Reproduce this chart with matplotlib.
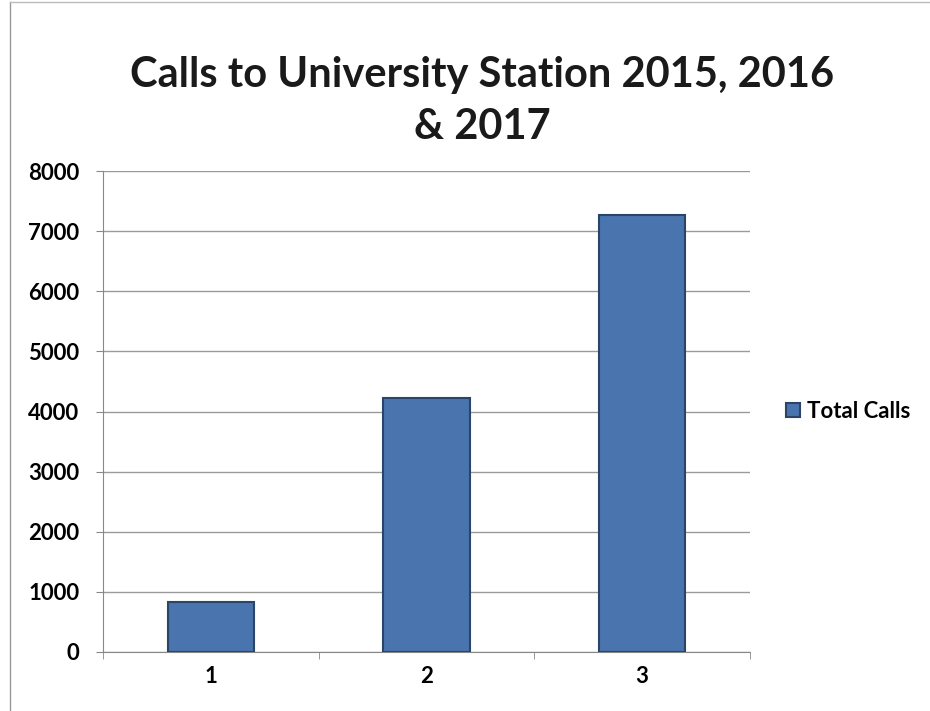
import matplotlib.pyplot as plt
from matplotlib.lines import Line2D

categories = ['1', '2', '3']
total_calls = [830, 4220, 7270]
y_ticks = [0, 1000, 2000, 3000, 4000, 5000, 6000, 7000, 8000]

plt.rcParams['font.family'] = ['Lato', 'DejaVu Sans']

fig = plt.figure(figsize=(9.3, 7.11), dpi=100)
ax = fig.add_axes([103 / 930, 1 - 652 / 711, 647 / 930, 481 / 711])

x = list(range(1, len(categories) + 1))
ax.bar(x, total_calls, width=0.4, color='#4a74ae', edgecolor='#2a4568',
       linewidth=1.5, label='Total Calls', zorder=3)

ax.set_xlim(0.5, 3.5)
ax.set_ylim(0, 8000)
ax.set_yticks(y_ticks)
ax.set_yticklabels([str(v) for v in y_ticks], fontsize=16, fontweight='bold')
ax.set_xticks(x)
ax.set_xticklabels(categories, fontsize=16, fontweight='bold')
ax.tick_params(axis='x', length=0, pad=10)
ax.tick_params(axis='y', length=5, direction='out', color='#888888', pad=12)
ax.set_xticks([0.5, 1.5, 2.5, 3.5], minor=True)
ax.tick_params(axis='x', which='minor', length=5, color='#888888')

ax.grid(True, axis='y', color='#9a9a9a', linewidth=1, zorder=0)
for side in ['top', 'right']:
    ax.spines[side].set_visible(False)
ax.spines['left'].set_color('#888888')
ax.spines['bottom'].set_color('#888888')

fig.text(482 / 930, 1 - 101 / 711, 'Calls to University Station 2015, 2016\n& 2017',
         ha='center', va='center', fontsize=30, fontweight='bold',
         linespacing=1.45, color='#1a1a1a')

ax.legend(loc='center left', bbox_to_anchor=(1.025, 0.5), frameon=False,
          prop={'size': 16, 'weight': 'bold'}, handlelength=0.6,
          handleheight=0.6, handletextpad=0.35)

# chart border (left and top edges visible in the scan)
fig.add_artist(Line2D([0.011, 0.011], [0, 0.997], transform=fig.transFigure,
                      color='#999999', linewidth=1))
fig.add_artist(Line2D([0.011, 1], [0.997, 0.997], transform=fig.transFigure,
                      color='#bbbbbb', linewidth=1))

plt.savefig('out.png', dpi=100)
